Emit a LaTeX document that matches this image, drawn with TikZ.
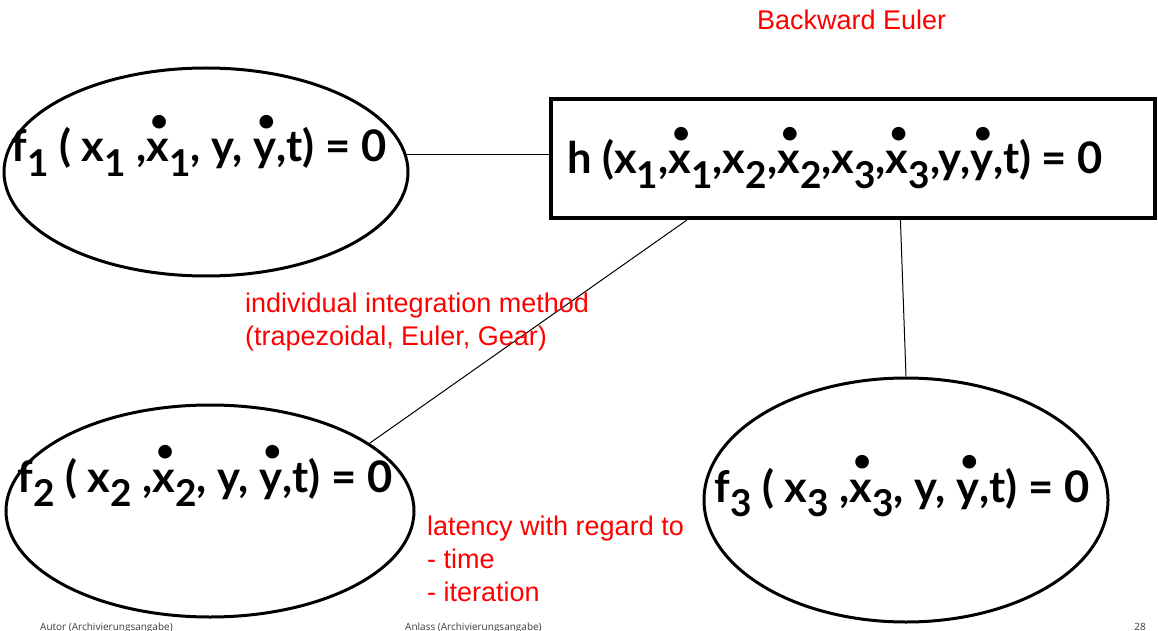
\documentclass[tikz,border=0pt]{standalone}
\usepackage{fontspec}
\usepackage{graphicx}
\setmainfont{Liberation Sans}
\newfontfamily\eqfont{Lato}
\newfontfamily\footfont{Open Sans}
\usetikzlibrary{shapes.geometric,calc}
\definecolor{note}{RGB}{255,0,0}
\definecolor{foot}{RGB}{60,60,60}
% lowered, slightly smaller index
\newcommand\low[1]{\raisebox{-0.33em}{\fontsize{37}{37}\selectfont #1}}
% time derivative: a heavy dot above the letter
\newcommand\dt[1]{\ooalign{#1\cr\hidewidth\kern0.06em\raisebox{0.71em}{\scalebox{0.72}{\textbullet}}\hidewidth\cr}}

\begin{document}
\begin{tikzpicture}[x=1pt,y=-1pt,
  eq/.style={font=\eqfont\bfseries\fontsize{43.5}{46}\selectfont, inner sep=0pt, anchor=base},
  blob/.style={ellipse, draw, line width=3pt, inner sep=0pt},
  mainbox/.style={rectangle, draw, line width=4pt, inner sep=0pt},
  link/.style={line width=1pt},
  remark/.style={font=\fontsize{27}{33}\selectfont, text=note, inner sep=0pt, anchor=base west, align=left},
  footer/.style={font=\footfont\fontsize{10}{12}\selectfont, text=foot, inner sep=0pt, anchor=base west}]
\useasboundingbox[fill=white] (0,0) rectangle (1158,631);

% subsystems and coupling equation
\node[blob, minimum width=404pt, minimum height=208pt] (e1) at (206,172) {};
\node[blob, minimum width=408pt, minimum height=212pt] (e2) at (210,511) {};
\node[blob, minimum width=404pt, minimum height=244pt] (e3) at (906,500) {};
\node[mainbox, minimum width=604pt, minimum height=119pt] (h) at (853,158.5) {};

\node[eq] (t1) at (199,162) {f\low{1} ( x\low{1} ,\dt{x}\low{1}, y, \dt{y},t) = 0};
\node[eq] (t2) at (205,492) {f\low{2} ( x\low{2} ,\dt{x}\low{2}, y, \dt{y},t) = 0};
\node[eq] (t3) at (902,502) {f\low{3} ( x\low{3} ,\dt{x}\low{3}, y, \dt{y},t) = 0};
\node[eq, anchor=base west] (th) at (567,174) {h (x\low{1},\dt{x}\low{1},x\low{2},\dt{x}\low{2},x\low{3},\dt{x}\low{3},y,\dt{y},t) = 0};

% couplings
\coordinate (hb1) at ($(h.south west)!0.227!(h.south east)$);
\coordinate (hb2) at ($(h.south west)!0.578!(h.south east)$);
\draw[link] (e1.5) -- (e1.5 -| h.west);
\draw[link] (hb1) -- (e2.23);
\draw[link] (hb2) -- (e3.north);

% remarks (anchored at the baseline of their last line)
\node[remark] (r1) at (757,30) {Backward Euler};
\node[remark] (r2) at (245,345) {individual integration method\\(trapezoidal, Euler, Gear)};
\node[remark] (r3) at (427,601) {latency with regard to\\- time\\- iteration};

% footer
\node[footer] (f1) at (40,630) {Autor (Archivierungsangabe)};
\node[footer] (f2) at (405,630) {Anlass (Archivierungsangabe)};
\node[footer, anchor=base east] (f3) at (1146,630) {28};
\end{tikzpicture}
\end{document}
